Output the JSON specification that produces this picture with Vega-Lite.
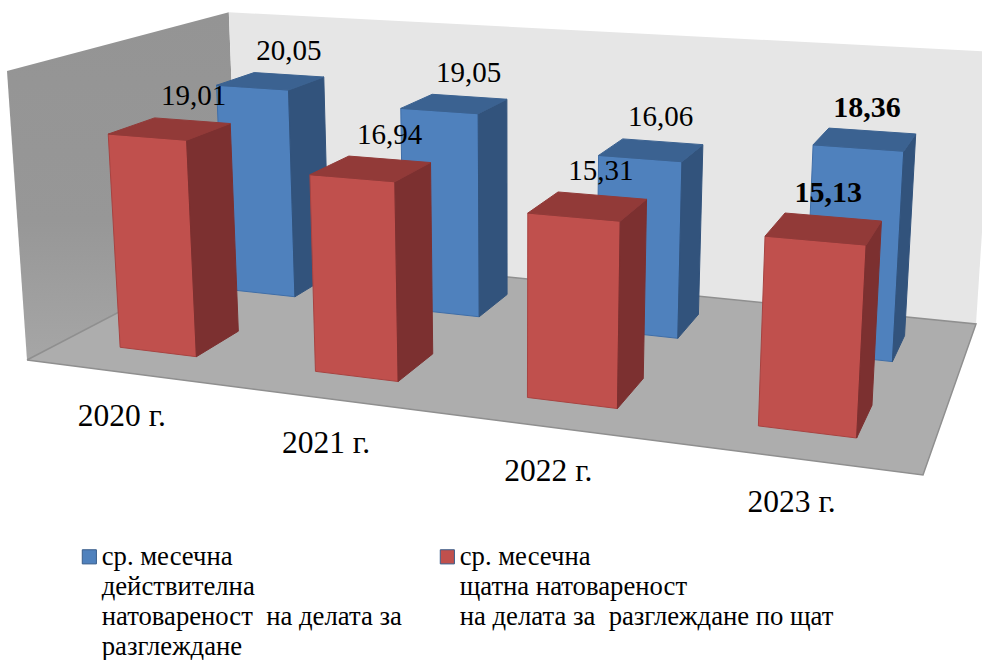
{
"$schema":"https://vega.github.io/schema/vega-lite/v6.json",
"width":982,"height":660,"padding":0,"autosize":"none","background":"white",
"view":{"stroke":null},
"config":{"text":{"font":"Liberation Serif","fontSize":29,"color":"black"}},
"datasets":{
"bars":[
{"year":"2020 г.","series":"ср. месечна\nдействителна\nнатовареност \u00a0на делата за\nразглеждане","value":20.05},
{"year":"2021 г.","series":"ср. месечна\nдействителна\nнатовареност \u00a0на делата за\nразглеждане","value":19.05},
{"year":"2022 г.","series":"ср. месечна\nдействителна\nнатовареност \u00a0на делата за\nразглеждане","value":16.06},
{"year":"2023 г.","series":"ср. месечна\nдействителна\nнатовареност \u00a0на делата за\nразглеждане","value":18.36},
{"year":"2020 г.","series":"ср. месечна\nщатна натовареност\nна делата за \u00a0разглеждане по щат","value":19.01},
{"year":"2021 г.","series":"ср. месечна\nщатна натовареност\nна делата за \u00a0разглеждане по щат","value":16.94},
{"year":"2022 г.","series":"ср. месечна\nщатна натовареност\nна делата за \u00a0разглеждане по щат","value":15.31},
{"year":"2023 г.","series":"ср. месечна\nщатна натовареност\nна делата за \u00a0разглеждане по щат","value":15.13}
],
"planes":[{"plane":"left"},{"plane":"back"},{"plane":"floor"}]
},
"encoding":{
"x":{"field":"px","type":"quantitative","axis":null,"scale":{"domain":[0,982],"range":[0,982],"nice":false,"zero":false}},
"y":{"field":"py","type":"quantitative","axis":null,"scale":{"domain":[0,660],"range":[0,660],"nice":false,"zero":false}}
},
"layer":[
{"data":{"name":"planes"},
"transform":[
{"calculate":"datum.plane=='left'?[[0,0,0,0],[1,0,0,1],[2,0,1,1],[3,0,1,0],[4,0,0,0]]:datum.plane=='back'?[[0,0,0,1],[1,1,0,1],[2,1,1,1],[3,0,1,1],[4,0,0,1]]:[[0,0,0,0],[1,1,0,0],[2,1,0,1],[3,0,0,1],[4,0,0,0]]","as":"c"},
{"flatten":["c"]},
{"calculate":"datum.c[0]","as":"k"},{"calculate":"datum.c[1]","as":"u"},{"calculate":"datum.c[2]","as":"v"},{"calculate":"datum.c[3]","as":"w"},
{"calculate":"1-0.16094*datum.u-0.0395*datum.v+0.22565*datum.w","as":"d"},
{"calculate":"(27+747.45*datum.u-20.3*datum.v+264.7*datum.w)/datum.d","as":"px"},
{"calculate":"(360+38.55*datum.u-291.8*datum.v-53.59*datum.w)/datum.d","as":"py"}
],
"encoding":{"order":{"field":"k","type":"quantitative"}},
"layer":[
{"transform":[{"filter":"datum.plane=='left'"}],"mark":{"type":"line","strokeWidth":0,"fill":{"gradient":"linear","x1":0,"y1":0,"x2":0,"y2":1,"stops":[{"offset":0,"color":"#949494"},{"offset":0.6,"color":"#979797"},{"offset":1,"color":"#a6a6a6"}]}}},
{"transform":[{"filter":"datum.plane=='back'"}],"mark":{"type":"line","strokeWidth":0,"fill":"#e6e6e6"}},
{"transform":[{"filter":"datum.plane=='floor'"}],"mark":{"type":"line","stroke":"#8f8f8f","strokeWidth":1.5,"fill":"#adadad"}}
]},
{"data":{"name":"bars"},
"transform":[
{"calculate":"(toNumber(slice(datum.year,0,4))-2020+0.5)/4","as":"uc"},
{"calculate":"indexof(datum.series,'действителна')>=0?0.75:0.25","as":"wc"},
{"calculate":"datum.value/25","as":"vt"},
{"calculate":"datum.wc>0.5?'blue':'red'","as":"tone"}
],
"layer":[
{"transform":[
{"calculate":"[['front',0,-1,-1,0],['front',1,1,-1,0],['front',2,1,-1,1],['front',3,-1,-1,1],['front',4,-1,-1,0],['side',0,1,-1,0],['side',1,1,1,0],['side',2,1,1,1],['side',3,1,-1,1],['side',4,1,-1,0],['top',0,-1,-1,1],['top',1,1,-1,1],['top',2,1,1,1],['top',3,-1,1,1],['top',4,-1,-1,1]]","as":"c"},
{"flatten":["c"]},
{"calculate":"datum.tone+'-'+datum.c[0]","as":"shade"},
{"calculate":"datum.year+datum.tone+datum.c[0]","as":"poly"},
{"calculate":"datum.c[1]","as":"k"},
{"calculate":"datum.uc+0.05*datum.c[2]","as":"u"},
{"calculate":"datum.wc+0.1*datum.c[3]","as":"w"},
{"calculate":"datum.vt*datum.c[4]","as":"v"},
{"calculate":"1-0.16094*datum.u-0.0395*datum.v+0.22565*datum.w","as":"d"},
{"calculate":"(27+747.45*datum.u-20.3*datum.v+264.7*datum.w)/datum.d","as":"px"},
{"calculate":"(360+38.55*datum.u-291.8*datum.v-53.59*datum.w)/datum.d","as":"py"}
],
"mark":{"type":"line","strokeWidth":1},
"encoding":{
"detail":{"field":"poly"},
"order":{"field":"k","type":"quantitative"},
"fill":{"field":"shade","legend":null,"scale":{"domain":["blue-front","blue-side","blue-top","red-front","red-side","red-top"],"range":["#4f81bd","#32537c","#3b6291","#c0504d","#7c3030","#923a38"]}},
"stroke":{"field":"shade","legend":null,"scale":{"domain":["blue-front","blue-side","blue-top","red-front","red-side","red-top"],"range":["#3f6ea8","#32537c","#3b6291","#a84341","#7c3030","#923a38"]}}
}},
{"transform":[
{"calculate":"datum.uc","as":"u"},{"calculate":"datum.wc+0.13","as":"w"},{"calculate":"datum.vt","as":"v"},
{"calculate":"1-0.16094*datum.u-0.0395*datum.v+0.22565*datum.w","as":"d"},
{"calculate":"(27+747.45*datum.u-20.3*datum.v+264.7*datum.w)/datum.d","as":"px"},
{"calculate":"(360+38.55*datum.u-291.8*datum.v-53.59*datum.w)/datum.d","as":"py"},
{"calculate":"replace(format(datum.value,'.2f'),'.',',')","as":"lab"}
],
"layer":[
{"transform":[{"filter":"datum.year!='2023 г.'"}],"mark":{"type":"text","dx":-5,"dy":-22,"baseline":"middle"},"encoding":{"text":{"field":"lab"}}},
{"transform":[{"filter":"datum.year=='2023 г.'"}],"mark":{"type":"text","dx":-7,"dy":-21,"baseline":"middle","fontWeight":"bold","fontSize":30},"encoding":{"text":{"field":"lab"}}}
]},
{"transform":[
{"filter":"datum.wc<0.5"},
{"calculate":"1-0.16094*datum.uc","as":"d"},
{"calculate":"(27+747.45*datum.uc)/datum.d","as":"px"},
{"calculate":"(360+38.55*datum.uc)/datum.d","as":"py"}
],
"mark":{"type":"text","dx":-1,"dy":45,"baseline":"middle","fontSize":31.5},"encoding":{"text":{"field":"year"}}},
{"transform":[{"calculate":"datum.uc*900","as":"px"},{"calculate":"300","as":"py"}],
"mark":{"type":"point","filled":true,"size":0,"opacity":0},
"encoding":{"color":{"field":"series","scale":{"domain":["ср. месечна\nдействителна\nнатовареност \u00a0на делата за\nразглеждане","ср. месечна\nщатна натовареност\nна делата за \u00a0разглеждане по щат"],"range":["#4f81bd","#c0504d"]},
"legend":{"title":null,"orient":"none","legendX":76,"legendY":543,"columns":2,"columnPadding":32,"symbolType":"square","symbolSize":200,"symbolOpacity":1,"symbolStrokeColor":"#385d8a","symbolStrokeWidth":1,"labelFont":"Liberation Serif","labelFontSize":26.7,"labelColor":"black","labelLimit":0,"labelOffset":-1,"labelExpr":"split(indexof(datum.label,'щатна')>=0?datum.label+'\\n ':datum.label,'\\n')",
"encoding":{"labels":{"lineHeight":{"value":30}}}}}}}
]}
],
"resolve":{"scale":{"color":"independent","fill":"independent","stroke":"independent"}}
}
